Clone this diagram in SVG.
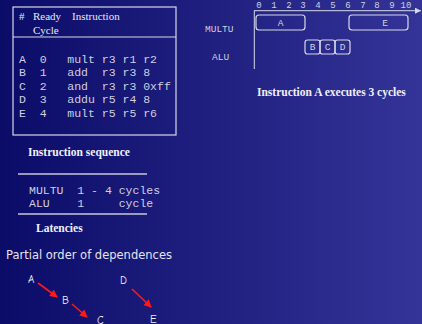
<svg xmlns="http://www.w3.org/2000/svg" width="422" height="324" viewBox="0 0 422 324">
<defs>
<linearGradient id="bg" x1="0" y1="0" x2="1" y2="0">
<stop offset="0" stop-color="#0b0b68"/>
<stop offset="1" stop-color="#343498"/>
</linearGradient>
<marker id="red" markerWidth="8" markerHeight="8" refX="7" refY="4" orient="auto" markerUnits="userSpaceOnUse">
<path d="M0,0 L8,4 L0,8 Z" fill="#ff1a1a"/>
</marker>
<marker id="axis" markerWidth="6" markerHeight="6" refX="6" refY="3" orient="auto" markerUnits="userSpaceOnUse">
<path d="M0,0 L6,3 L0,6 Z" fill="#d8d8e8"/>
</marker>
</defs>
<style>
.serif{font-family:"Liberation Serif",serif;fill:#e8e8f0}
.bold{font-family:"Liberation Serif",serif;font-weight:bold;fill:#f0f0f8;font-size:11.5px}
.mono{font-family:"Liberation Mono",monospace;fill:#d0d0de;font-size:11.5px}
.small{font-family:"Liberation Mono",monospace;fill:#d0d0de;font-size:9.5px}
.box{fill:none;stroke:#d8d8e8;stroke-width:1.2}
.line{stroke:#c8c8d8;stroke-width:1.5;fill:none}
.hand{font-family:"Comic Neue","Comic Sans MS","DejaVu Sans",sans-serif;fill:#f0f0f8;font-size:11px}
.dep{stroke:#ff1a1a;stroke-width:1.6;fill:none}
</style>
<rect width="422" height="324" fill="url(#bg)"/>

<g id="table">
<rect x="13" y="7" width="163" height="128" class="box"/>
<line x1="13" y1="37" x2="176" y2="37" class="box"/>
<text class="serif" font-size="11" x="19" y="20">#</text>
<text class="serif" font-size="11" x="33" y="20">Ready</text>
<text class="serif" font-size="11" x="72" y="20">Instruction</text>
<text class="serif" font-size="11" x="33" y="34">Cycle</text>
<text class="mono" x="19" y="63" xml:space="preserve">A  0   mult r3 r1 r2</text>
<text class="mono" x="19" y="76" xml:space="preserve">B  1   add  r3 r3 8</text>
<text class="mono" x="19" y="89.5" xml:space="preserve">C  2   and  r3 r3 0xff</text>
<text class="mono" x="19" y="103" xml:space="preserve">D  3   addu r5 r4 8</text>
<text class="mono" x="19" y="117" xml:space="preserve">E  4   mult r5 r5 r6</text>
</g>
<text class="bold" x="28" y="156">Instruction sequence</text>

<g id="latencies">
<line x1="18" y1="174" x2="147" y2="174" class="line"/>
<text class="mono" x="29" y="194" xml:space="preserve">MULTU  1 - 4 cycles</text>
<text class="mono" x="29" y="207" xml:space="preserve">ALU    1     cycle</text>
<line x1="18" y1="214" x2="147" y2="214" class="line"/>
<text class="bold" x="36" y="232">Latencies</text>
</g>

<g id="timeline">
<line x1="254" y1="10.7" x2="421" y2="10.7" stroke="#d8d8e8" stroke-width="1" marker-end="url(#axis)"/>
<line x1="254.3" y1="10.7" x2="254.3" y2="69" stroke="#d8d8e8" stroke-width="1"/>
<g class="small" text-anchor="middle">
<text x="259" y="8" font-size="9">0</text>
<text x="274" y="8" font-size="9">1</text>
<text x="289" y="8" font-size="9">2</text>
<text x="303" y="8" font-size="9">3</text>
<text x="318" y="8" font-size="9">4</text>
<text x="333" y="8" font-size="9">5</text>
<text x="348" y="8" font-size="9">6</text>
<text x="363" y="8" font-size="9">7</text>
<text x="377" y="8" font-size="9">8</text>
<text x="392" y="8" font-size="9">9</text>
<text x="406" y="8" font-size="9">10</text>
</g>
<text class="small" x="205" y="32">MULTU</text>
<text class="small" x="212" y="60">ALU</text>
</g>
<g id="boxA"><rect x="256" y="15" width="49" height="15" rx="3" class="box"/><text class="small" x="280.5" y="25.5" text-anchor="middle">A</text></g>
<g id="boxE"><rect x="349" y="15" width="59" height="15" rx="3" class="box"/><text class="small" x="385" y="25.5" text-anchor="middle">E</text></g>
<g id="boxB"><rect x="305" y="40" width="15" height="14" rx="2.5" class="box"/><text class="small" x="312.5" y="50" text-anchor="middle">B</text></g>
<g id="boxC"><rect x="320" y="40" width="15" height="14" rx="2.5" class="box"/><text class="small" x="327.5" y="50" text-anchor="middle">C</text></g>
<g id="boxD"><rect x="335" y="40" width="15" height="14" rx="2.5" class="box"/><text class="small" x="342.5" y="50" text-anchor="middle">D</text></g>
<text class="bold" x="257" y="96" font-size="12">Instruction A executes 3 cycles</text>

<text x="6" y="259" font-family="DejaVu Sans,sans-serif" font-size="11.5" fill="#e4e4ee">Partial order of dependences</text>

<g id="nA"><text class="hand" x="28" y="283">A</text></g>
<g id="nB"><text class="hand" x="62" y="304">B</text></g>
<g id="nC"><text class="hand" x="97" y="324">C</text></g>
<g id="nD"><text class="hand" x="120" y="284">D</text></g>
<g id="nE"><text class="hand" x="150" y="323">E</text></g>
<g id="connectors">
<line x1="38" y1="283" x2="57" y2="297" class="dep" marker-end="url(#red)"/>
<line x1="72" y1="304" x2="87" y2="317" class="dep" marker-end="url(#red)"/>
<line x1="132" y1="289" x2="151" y2="307" class="dep" marker-end="url(#red)"/>
</g>
</svg>
